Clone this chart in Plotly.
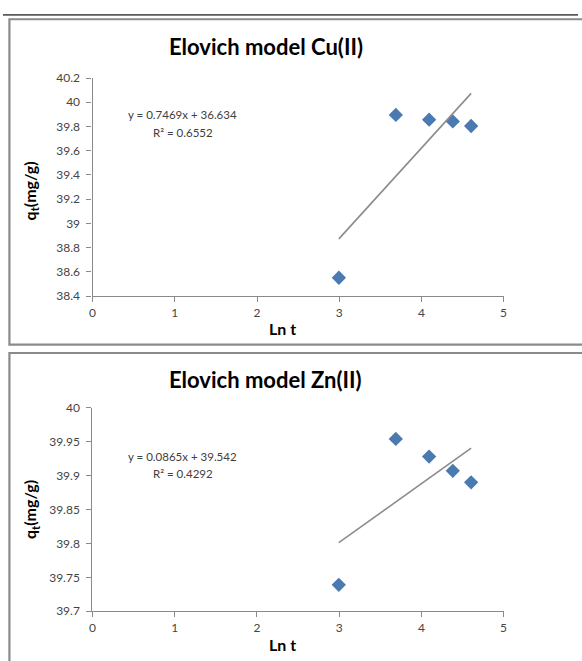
import plotly.graph_objects as go

# ---------------- data ----------------
ln_t = [2.996, 3.689, 4.094, 4.382, 4.605]
qt_cu = [38.551, 39.896, 39.856, 39.842, 39.804]
qt_zn = [39.739, 39.954, 39.928, 39.907, 39.890]

fit_cu = [0.7469, 36.634]   # slope, intercept
fit_zn = [0.0865, 39.542]
r2_cu = 0.6552
r2_zn = 0.4292

titles = ["Elovich model Cu(II)", "Elovich model Zn(II)"]
x_ticks = [0, 1, 2, 3, 4, 5]
y_ticks_cu = [38.4, 38.6, 38.8, 39, 39.2, 39.4, 39.6, 39.8, 40, 40.2]
y_ticks_zn = [39.7, 39.75, 39.8, 39.85, 39.9, 39.95, 40]
y_ticktext_cu = ["38.4", "38.6", "38.8", "39", "39.2", "39.4", "39.6", "39.8", "40", "40.2"]
y_ticktext_zn = ["39.7", "39.75", "39.8", "39.85", "39.9", "39.95", "40"]

# ---------------- layout helpers ----------------
W, H = 582, 661


def px(x):
    return x / W


def py(y):
    return 1 - y / H


FONT = "Lato, 'Open Sans', sans-serif"
MARK = "#4a7ab0"
LINE = "#8c8c8c"
AX = "#8a8a8a"
TXT = "#454545"

fig = go.Figure()

panels = [
    dict(q=qt_cu, fit=fit_cu, r2=r2_cu, title=titles[0], yt=y_ticks_cu, ytt=y_ticktext_cu,
         yr=[38.4, 40.2], plot=(90.7, 71.7, 506.7, 294.7), top=11.5, bottom=344.5,
         title_y=39, xt_y=328, eq_y=109, r2_y=127, ytitle_y=187, ax="", ay=""),
    dict(q=qt_zn, fit=fit_zn, r2=r2_zn, title=titles[1], yt=y_ticks_zn, ytt=y_ticktext_zn,
         yr=[39.7, 40.0], plot=(90.5, 409, 506.7, 617.3), top=353, bottom=675,
         title_y=380, xt_y=651, eq_y=459, r2_y=476, ytitle_y=513, ax="2", ay="2"),
]

annotations = []
shapes = []

for p in panels:
    xa = "x" + p["ax"]
    ya = "y" + p["ay"]
    x0, y0, x1, y1 = p["plot"]
    fig.add_trace(go.Scatter(
        x=ln_t, y=p["q"], mode="markers", xaxis=xa, yaxis=ya,
        marker=dict(symbol="diamond", size=11, color=MARK),
        showlegend=False, cliponaxis=False))
    xs = [ln_t[0], ln_t[-1]]
    ys = [p["fit"][0] * v + p["fit"][1] for v in xs]
    fig.add_trace(go.Scatter(
        x=xs, y=ys, mode="lines", xaxis=xa, yaxis=ya,
        line=dict(color=LINE, width=1.6), showlegend=False, cliponaxis=False))

    axis_common = dict(showgrid=False, zeroline=False, showline=True, linecolor=AX,
                       linewidth=1.3, ticks="outside", ticklen=5, tickwidth=1.3, tickcolor=AX,
                       tickfont=dict(family=FONT, size=12, color=TXT))
    fig.update_layout(**{
        ("xaxis" + p["ax"]): dict(domain=[px(x0), px(x1)], range=[0, 5], tickvals=x_ticks,
                                  anchor=ya, ticklabelstandoff=0, **axis_common),
        ("yaxis" + p["ay"]): dict(domain=[py(y1), py(y0)], range=p["yr"], tickvals=p["yt"],
                                  ticktext=p["ytt"], anchor=xa, ticklabelstandoff=4,
                                  **axis_common),
    })

    annotations += [
        dict(text="<b>" + p["title"] + "</b>", x=px(266), y=py(p["title_y"]), xref="paper",
             yref="paper", showarrow=False, font=dict(family=FONT, size=22, color="#000000"),
             xanchor="center", yanchor="middle"),
        dict(text="<b>Ln t</b>", x=px(283), y=py(p["xt_y"]), xref="paper", yref="paper",
             showarrow=False, font=dict(family=FONT, size=16, color="#000000"),
             xanchor="center", yanchor="middle"),
        dict(text="<b>q<sub>t</sub>(mg/g)</b>", x=px(28), y=py(p["ytitle_y"]), xref="paper",
             yref="paper", showarrow=False, textangle=-90,
             font=dict(family=FONT, size=16, color="#000000"),
             xanchor="center", yanchor="middle"),
        dict(text="y = %.4fx + %.3f" % (p["fit"][0], p["fit"][1]), x=px(182), y=py(p["eq_y"]),
             xref="paper", yref="paper", showarrow=False,
             font=dict(family=FONT, size=11.5, color="#404040"), xanchor="center", yanchor="middle"),
        dict(text="R² = %.4f" % p["r2"], x=px(182), y=py(p["r2_y"]),
             xref="paper", yref="paper", showarrow=False,
             font=dict(family=FONT, size=11.5, color="#404040"), xanchor="center", yanchor="middle"),
    ]
    shapes.append(dict(type="rect", xref="paper", yref="paper",
                       x0=px(6.5), x1=px(600), y0=py(p["bottom"]), y1=py(p["top"]),
                       line=dict(color="#8a8a8a", width=2.2), fillcolor="rgba(0,0,0,0)",
                       layer="below"))

shapes.append(dict(type="line", xref="paper", yref="paper", x0=0, x1=1,
                   y0=py(7), y1=py(7), line=dict(color="#5a5a5a", width=1.8)))

fig.update_layout(width=W, height=H, margin=dict(l=0, r=0, t=0, b=0),
                  paper_bgcolor="white", plot_bgcolor="white",
                  annotations=annotations, shapes=shapes)

fig.write_html("out.html")
